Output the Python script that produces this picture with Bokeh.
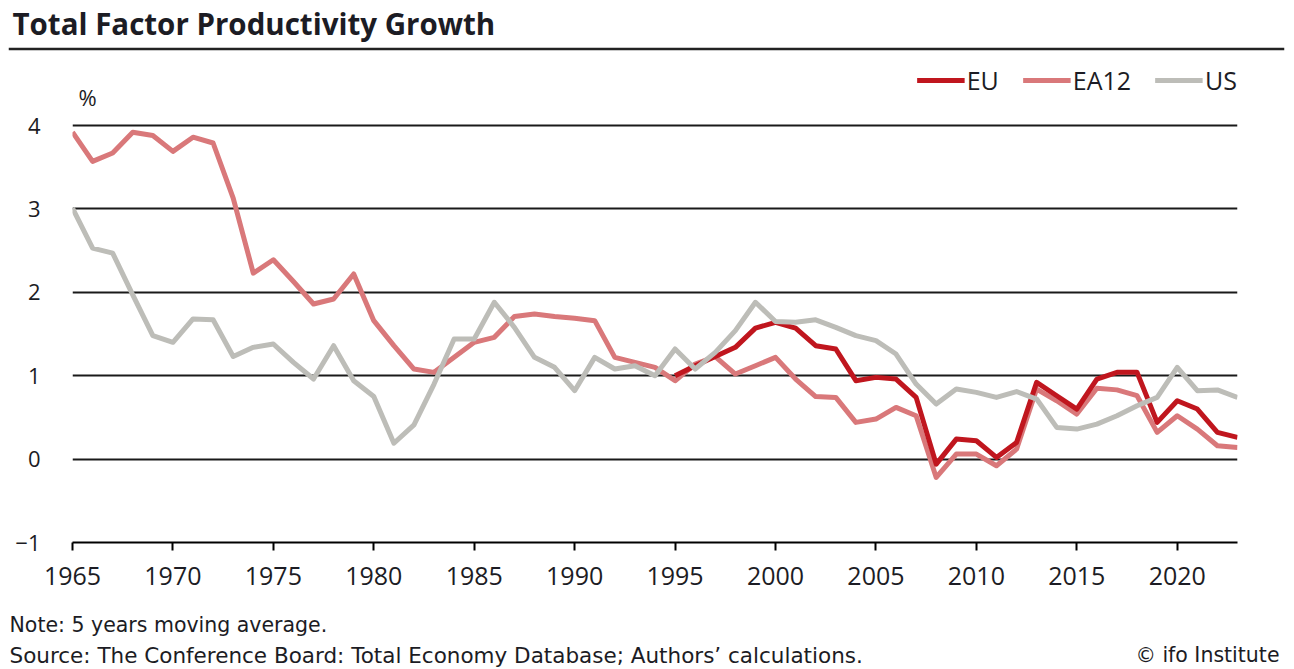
from bokeh.plotting import figure
from bokeh.models import (Range1d, FixedTicker, Label, Span, Legend, LegendItem)
from bokeh.layouts import column
from bokeh.embed import file_html
from bokeh.resources import INLINE

# ---------------- data ----------------
years = list(range(1965, 2024))
eu_years = list(range(1995, 2024))

ea12 = [3.92, 3.57, 3.67, 3.92, 3.88, 3.69, 3.86, 3.79, 3.13, 2.23,
        2.39, 2.13, 1.86, 1.92, 2.22, 1.66, 1.36, 1.08, 1.04, 1.22,
        1.40, 1.46, 1.71, 1.74, 1.71, 1.69, 1.66, 1.22, 1.16, 1.10,
        0.94, 1.14, 1.23, 1.02, 1.12, 1.22, 0.96, 0.75, 0.74, 0.44,
        0.48, 0.62, 0.52, -0.22, 0.06, 0.06, -0.08, 0.12, 0.84, 0.70,
        0.54, 0.85, 0.83, 0.76, 0.32, 0.52, 0.36, 0.16, 0.14]

us = [3.01, 2.53, 2.47, 1.97, 1.48, 1.40, 1.68, 1.67, 1.23, 1.34,
      1.38, 1.16, 0.96, 1.36, 0.94, 0.75, 0.19, 0.41, 0.90, 1.44,
      1.44, 1.88, 1.58, 1.22, 1.10, 0.82, 1.22, 1.08, 1.12, 1.00,
      1.32, 1.08, 1.28, 1.54, 1.88, 1.65, 1.64, 1.67, 1.58, 1.48,
      1.42, 1.26, 0.90, 0.66, 0.84, 0.80, 0.74, 0.81, 0.72, 0.38,
      0.36, 0.42, 0.52, 0.64, 0.74, 1.10, 0.82, 0.83, 0.74]

eu = [1.00, 1.12, 1.23, 1.34, 1.57, 1.64, 1.57, 1.36, 1.32, 0.94,
      0.98, 0.96, 0.74, -0.06, 0.24, 0.22, 0.02, 0.20, 0.92, 0.76,
      0.60, 0.96, 1.04, 1.04, 0.44, 0.70, 0.60, 0.32, 0.26]

x_ticks = [1965, 1970, 1975, 1980, 1985, 1990, 1995, 2000, 2005, 2010, 2015, 2020]
y_ticks = [-1, 0, 1, 2, 3, 4]
y_labels = {-1: "\u22121", 0: "0", 1: "1", 2: "2", 3: "3", 4: "4"}

title_text = "Total Factor Productivity Growth"
unit_text = "%"
note_text = "Note: 5 years moving average."
source_text = "Source: The Conference Board: Total Economy Database; Authors\u2019 calculations."
credit_text = "\u00a9 ifo Institute"

# ---------------- style ----------------
FONT = "Open Sans"
FOOT_FONT = "DejaVu Sans"
TXT = "#1c1c24"
C_EU = "#c0161e"
C_EA = "#d9787a"
C_US = "#bdbdb8"
W = 1294


def blank(height, left, right):
    f = figure(width=W, height=height, output_backend="svg", toolbar_location=None,
               x_range=Range1d(0, W - left - right), y_range=Range1d(0, height),
               x_axis_location=None, y_axis_location=None,
               min_border=0, min_border_left=left, min_border_right=right,
               min_border_top=0, min_border_bottom=0, frame_align=False,
               background_fill_color="white", border_fill_color="white")
    f.outline_line_color = None
    f.xgrid.visible = False
    f.ygrid.visible = False
    return f


# ---- header ----
TOP_H = 58
top = blank(TOP_H, 8, 10)
top.add_layout(Label(x=4, y=TOP_H - 22.5, x_units="screen", y_units="screen",
                     text=title_text, text_align="left", text_baseline="middle",
                     text_font=FONT, text_font_size="29.5px", text_font_style="bold",
                     text_color=TXT))
top.add_layout(Span(location=TOP_H - 48.5, dimension="width",
                    line_color="#222222", line_width=2.5))

# ---- main chart ----
MAIN_TOP = 58
FRAME_TOP = 63
FRAME_BOTTOM = 542
MAIN_H = 542
p = figure(width=W, height=MAIN_H, output_backend="svg", toolbar_location=None,
           x_range=Range1d(1965, 2023),
           y_range=Range1d(-1, -1 + (FRAME_BOTTOM - FRAME_TOP) / 83.4),
           min_border_left=72, min_border_right=57,
           min_border_top=FRAME_TOP - MAIN_TOP,
           min_border_bottom=MAIN_TOP + MAIN_H - FRAME_BOTTOM,
           frame_align=False,
           background_fill_color="white", border_fill_color="white")
p.outline_line_color = None

p.xaxis.ticker = FixedTicker(ticks=x_ticks)
p.xaxis.axis_line_color = "black"
p.xaxis.axis_line_width = 2
p.xaxis.major_tick_line_color = "black"
p.xaxis.major_tick_line_width = 2
p.xaxis.major_tick_out = 8
p.xaxis.major_tick_in = 0
p.xaxis.minor_tick_line_color = None
p.xaxis.major_label_standoff = 16
p.xaxis.major_label_text_font = FONT
p.xaxis.major_label_text_font_size = "25px"
p.xaxis.major_label_text_color = TXT

p.yaxis.ticker = FixedTicker(ticks=y_ticks)
p.yaxis.major_label_overrides = y_labels
p.yaxis.axis_line_color = None
p.yaxis.major_tick_line_color = None
p.yaxis.minor_tick_line_color = None
p.yaxis.major_tick_out = 0
p.yaxis.major_tick_in = 0
p.yaxis.major_label_standoff = 32
p.yaxis.major_label_text_font = FONT
p.yaxis.major_label_text_font_size = "22px"
p.yaxis.major_label_text_color = TXT

p.xgrid.grid_line_color = None
p.ygrid.ticker = FixedTicker(ticks=y_ticks[1:])
p.ygrid.grid_line_color = "#1a1a1a"
p.ygrid.grid_line_width = 2

r_ea = p.line(years, ea12, line_color=C_EA, line_width=5, line_join="round")
r_eu = p.line(eu_years, eu, line_color=C_EU, line_width=5, line_join="round")
r_us = p.line(years, us, line_color=C_US, line_width=5, line_join="round")

legend = Legend(items=[LegendItem(label="EU", renderers=[r_eu]),
                       LegendItem(label="EA12", renderers=[r_ea]),
                       LegendItem(label="US", renderers=[r_us])],
                orientation="horizontal", location="top_right",
                border_line_color=None, background_fill_alpha=0,
                padding=0, margin=0, spacing=24, label_standoff=2,
                glyph_width=48, glyph_height=20,
                label_text_font=FONT, label_text_font_size="25px",
                label_text_color=TXT)
p.add_layout(legend, "center")

p.add_layout(Label(x=15, y=FRAME_BOTTOM - 96, x_units="screen", y_units="screen",
                   text=unit_text, text_align="center", text_baseline="middle",
                   text_font=FONT, text_font_size="22px", text_color=TXT))

# ---- footer ----
BOT_H = 669 - MAIN_TOP - MAIN_H
bot = blank(BOT_H, 0, 0)
bot.add_layout(Label(x=9, y=669 - 624.5, x_units="screen", y_units="screen",
                     text=note_text, text_align="left", text_baseline="middle",
                     text_font=FOOT_FONT, text_font_size="20.5px", text_color=TXT))
bot.add_layout(Label(x=9, y=669 - 654.5, x_units="screen", y_units="screen",
                     text=source_text, text_align="left", text_baseline="middle",
                     text_font=FOOT_FONT, text_font_size="21.5px", text_color=TXT))
bot.add_layout(Label(x=1279, y=669 - 654.5, x_units="screen", y_units="screen",
                     text=credit_text, text_align="right", text_baseline="middle",
                     text_font=FOOT_FONT, text_font_size="20.5px", text_color=TXT))

layout = column(top, p, bot, spacing=0)
open("out.html", "w").write(file_html(layout, INLINE))
